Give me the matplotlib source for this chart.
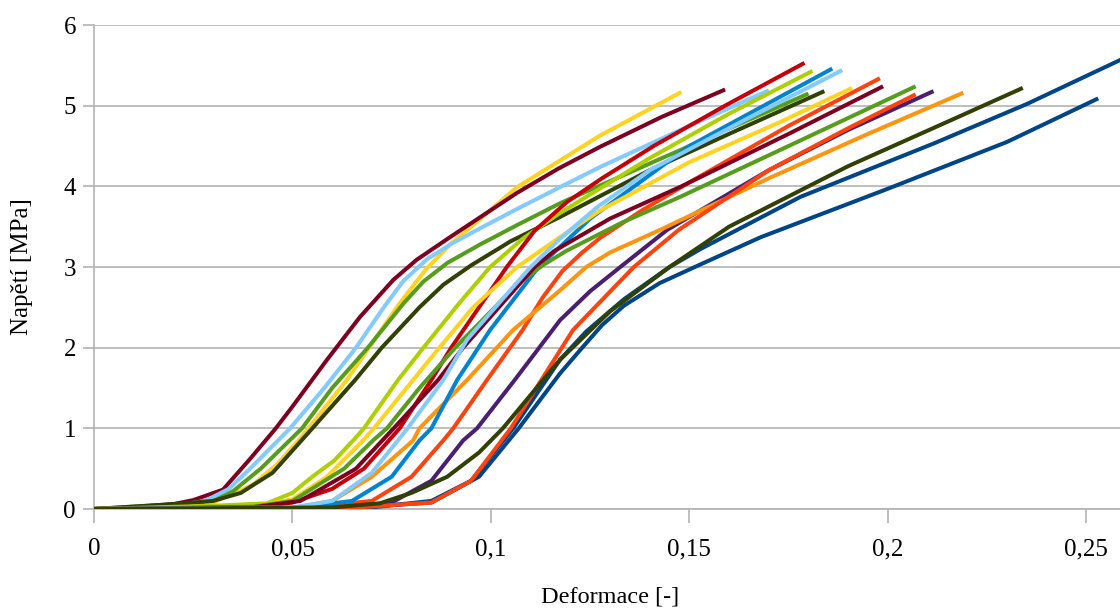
import matplotlib
matplotlib.use("Agg")
import matplotlib.pyplot as plt

# ---- data (strain [-], stress [MPa]) ----
eps_01 = [0, 0.04, 0.07, 0.085, 0.095, 0.1056, 0.1174, 0.124, 0.1335, 0.145, 0.1527, 0.178, 0.2115, 0.235, 0.26]
sig_01 = [0, 0.0, 0.02, 0.1, 0.35, 1.0, 1.85, 2.2, 2.6, 3.0, 3.22, 3.87, 4.53, 5.02, 5.6]
eps_02 = [0, 0.05, 0.07, 0.08, 0.088, 0.0905, 0.099, 0.108, 0.113, 0.118, 0.123, 0.1275, 0.138, 0.15, 0.175, 0.198]
sig_02 = [0, 0.0, 0.1, 0.4, 0.85, 1.0, 1.6, 2.22, 2.62, 2.95, 3.18, 3.36, 3.7, 4.05, 4.75, 5.34]
eps_03 = [0, 0.02, 0.03, 0.04, 0.046, 0.0515, 0.054, 0.0637, 0.0693, 0.077, 0.0836, 0.0895, 0.095, 0.1066, 0.1174, 0.1275, 0.148]
sig_03 = [0, 0.03, 0.08, 0.3, 0.55, 0.85, 1.0, 1.6, 2.0, 2.55, 2.97, 3.27, 3.5, 3.99, 4.32, 4.63, 5.17]
eps_04 = [0, 0.01, 0.02, 0.028, 0.035, 0.042, 0.0524, 0.06, 0.069, 0.078, 0.083, 0.089, 0.0973, 0.107, 0.1174, 0.15, 0.18]
sig_04 = [0, 0.03, 0.06, 0.1, 0.22, 0.5, 1.0, 1.5, 2.0, 2.55, 2.82, 3.05, 3.28, 3.53, 3.79, 4.5, 5.15]
eps_05 = [0, 0.01, 0.02, 0.025, 0.0325, 0.0393, 0.0458, 0.050, 0.0587, 0.067, 0.0754, 0.0813, 0.0897, 0.098, 0.1066, 0.117, 0.1275, 0.143, 0.159]
sig_05 = [0, 0.02, 0.06, 0.11, 0.24, 0.62, 1.0, 1.27, 1.85, 2.38, 2.84, 3.09, 3.37, 3.64, 3.92, 4.22, 4.49, 4.86, 5.20]
eps_06 = [0, 0.02, 0.028, 0.034, 0.0393, 0.0494, 0.058, 0.066, 0.073, 0.078, 0.084, 0.0905, 0.0973, 0.1066, 0.1174, 0.1275, 0.15, 0.170]
sig_06 = [0, 0.04, 0.1, 0.25, 0.5, 1.0, 1.5, 2.0, 2.5, 2.83, 3.1, 3.3, 3.48, 3.72, 3.99, 4.24, 4.75, 5.19]
eps_07 = [0, 0.01, 0.02, 0.03, 0.037, 0.045, 0.055, 0.0658, 0.0725, 0.082, 0.088, 0.095, 0.105, 0.1174, 0.14, 0.16, 0.184]
sig_07 = [0, 0.03, 0.06, 0.1, 0.2, 0.45, 1.0, 1.6, 2.0, 2.5, 2.78, 3.02, 3.32, 3.62, 4.2, 4.65, 5.18]
eps_08 = [0, 0.03, 0.0436, 0.05, 0.055, 0.0605, 0.0653, 0.068, 0.0766, 0.083, 0.092, 0.0998, 0.108, 0.1174, 0.14, 0.16, 0.181]
sig_08 = [0, 0.04, 0.07, 0.2, 0.4, 0.6, 0.85, 1.0, 1.6, 2.0, 2.55, 3.0, 3.35, 3.67, 4.35, 4.9, 5.43]
eps_09 = [0, 0.06, 0.075, 0.085, 0.093, 0.0965, 0.106, 0.1174, 0.125, 0.1326, 0.1444, 0.17, 0.19, 0.2115]
sig_09 = [0, 0.01, 0.08, 0.35, 0.85, 1.0, 1.6, 2.34, 2.7, 3.0, 3.46, 4.2, 4.7, 5.18]
eps_10 = [0, 0.05, 0.06, 0.07, 0.0804, 0.082, 0.094, 0.1056, 0.1174, 0.124, 0.13, 0.1426, 0.17, 0.195, 0.219]
sig_10 = [0, 0.01, 0.1, 0.4, 0.85, 1.0, 1.6, 2.22, 2.71, 3.0, 3.18, 3.46, 4.1, 4.65, 5.16]
eps_11 = [0, 0.04, 0.05, 0.06, 0.068, 0.077, 0.085, 0.09, 0.104, 0.111, 0.119, 0.128, 0.141, 0.159, 0.179]
sig_11 = [0, 0.02, 0.08, 0.25, 0.5, 1.0, 1.6, 2.0, 3.0, 3.45, 3.8, 4.1, 4.5, 5.0, 5.53]
eps_12 = [0, 0.05, 0.065, 0.075, 0.082, 0.085, 0.0915, 0.0998, 0.112, 0.125, 0.15, 0.186]
sig_12 = [0, 0.01, 0.1, 0.4, 0.85, 1.0, 1.6, 2.22, 3.0, 3.6, 4.5, 5.46]
eps_13 = [0, 0.06, 0.085, 0.097, 0.107, 0.1174, 0.123, 0.128, 0.1335, 0.1425, 0.1527, 0.168, 0.2, 0.23, 0.253]
sig_13 = [0, 0.0, 0.08, 0.4, 1.0, 1.68, 2.0, 2.28, 2.52, 2.8, 3.03, 3.37, 3.97, 4.55, 5.09]
eps_14 = [0, 0.06, 0.085, 0.095, 0.105, 0.1207, 0.136, 0.1473, 0.17, 0.19, 0.207]
sig_14 = [0, 0.0, 0.08, 0.35, 1.0, 2.22, 3.0, 3.46, 4.2, 4.72, 5.14]
eps_15 = [0, 0.04, 0.05, 0.0587, 0.0678, 0.0705, 0.0804, 0.087, 0.0955, 0.1066, 0.1174, 0.1275, 0.15, 0.173, 0.191]
sig_15 = [0, 0.03, 0.12, 0.4, 0.85, 1.0, 1.6, 2.0, 2.5, 3.0, 3.37, 3.7, 4.3, 4.8, 5.22]
eps_16 = [0, 0.04, 0.05, 0.063, 0.0703, 0.0738, 0.082, 0.091, 0.101, 0.107, 0.113, 0.119, 0.133, 0.1477, 0.175, 0.207]
sig_16 = [0, 0.03, 0.1, 0.5, 0.85, 1.0, 1.5, 2.0, 2.5, 2.8, 3.02, 3.2, 3.55, 3.87, 4.5, 5.24]
eps_17 = [0, 0.04, 0.052, 0.066, 0.0755, 0.0867, 0.093, 0.102, 0.111, 0.116, 0.13, 0.148, 0.175, 0.1988]
sig_17 = [0, 0.02, 0.1, 0.5, 1.0, 1.6, 2.0, 2.5, 3.0, 3.2, 3.6, 4.0, 4.65, 5.24]
eps_18 = [0, 0.05, 0.06, 0.07, 0.079, 0.088, 0.094, 0.11, 0.1174, 0.127, 0.14, 0.165, 0.1885]
sig_18 = [0, 0.02, 0.1, 0.45, 1.0, 1.6, 2.1, 3.0, 3.35, 3.75, 4.2, 4.85, 5.44]
eps_19 = [0, 0.06, 0.072, 0.08, 0.089, 0.097, 0.103, 0.1174, 0.13, 0.145, 0.16, 0.19, 0.215, 0.234]
sig_19 = [0, 0.02, 0.07, 0.2, 0.4, 0.7, 1.0, 1.85, 2.45, 3.0, 3.5, 4.25, 4.8, 5.22]

x_ticks = [0, 0.05, 0.1, 0.15, 0.2, 0.25]
x_tick_labels = ["0", "0,05", "0,1", "0,15", "0,2", "0,25"]
y_ticks = [0, 1, 2, 3, 4, 5, 6]
y_tick_labels = ["0", "1", "2", "3", "4", "5", "6"]
x_label = "Deformace [-]"
y_label = "Napětí [MPa]"

series = [
    (eps_01, sig_01), (eps_02, sig_02), (eps_03, sig_03), (eps_04, sig_04),
    (eps_05, sig_05), (eps_06, sig_06), (eps_07, sig_07), (eps_08, sig_08),
    (eps_09, sig_09), (eps_10, sig_10), (eps_11, sig_11), (eps_12, sig_12),
    (eps_13, sig_13), (eps_14, sig_14), (eps_15, sig_15), (eps_16, sig_16),
    (eps_17, sig_17), (eps_18, sig_18), (eps_19, sig_19),
]
palette = ["#004586", "#ff420e", "#ffd320", "#579d1c", "#7e0021", "#83caff",
           "#314004", "#aecf00", "#4b1f6f", "#ff950e", "#c5000b", "#0084d1"]

plt.rcParams["font.family"] = ["Liberation Serif", "DejaVu Serif"]

fig = plt.figure(figsize=(11.2, 6.08), dpi=100)
ax = fig.add_axes([94 / 1120, 99 / 608, (1126 - 94) / 1120, (509 - 25) / 608])

for i, (xs, ys) in enumerate(series):
    ax.plot(xs, ys, color=palette[i % len(palette)], lw=2.9,
            solid_capstyle="butt", solid_joinstyle="round", zorder=3 + i * 0.01)

ax.set_xlim(0, 0.26)
ax.set_ylim(0, 6)
ax.set_xticks(x_ticks)
ax.set_xticklabels(x_tick_labels)
ax.set_yticks(y_ticks)
ax.set_yticklabels(y_tick_labels)
ax.yaxis.grid(True, color="#b3b3b3", lw=1.2, zorder=1)
ax.set_axisbelow(True)
for s in ["top", "right"]:
    ax.spines[s].set_visible(False)
for s in ["left", "bottom"]:
    ax.spines[s].set_color("#b3b3b3")
    ax.spines[s].set_linewidth(1.2)
ax.tick_params(axis="x", direction="out", length=10, width=1.2, color="#b3b3b3",
               labelsize=18, pad=11)
ax.tick_params(axis="y", direction="out", length=8, width=1.2, color="#b3b3b3",
               labelsize=18, pad=5)
ax.set_xlabel(x_label, fontsize=17.5, labelpad=19)
ax.set_ylabel(y_label, fontsize=18, labelpad=22)

fig.savefig("out.png", dpi=100)
